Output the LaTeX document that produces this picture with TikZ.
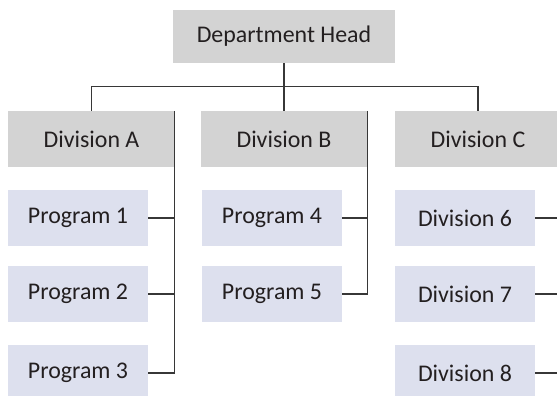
\documentclass[tikz,border=0pt]{standalone}
\usepackage{fontspec}
\setmainfont{Carlito}
\definecolor{headgray}{RGB}{211,211,211}
\definecolor{progblue}{RGB}{221,224,238}
\definecolor{linkgray}{RGB}{55,55,55}
\definecolor{textgray}{RGB}{35,31,32}

\tikzset{
  orgbox/.style={inner sep=0pt, text=textgray, font=\fontsize{20.4}{24}\selectfont, minimum height=1.68cm},
  headbox/.style={orgbox, fill=headgray, minimum width=6.66cm, minimum height=1.59cm},
  divbox/.style={orgbox, fill=headgray, minimum width=4.98cm},
  progbox/.style={orgbox, fill=progblue, minimum width=4.2cm},
  link/.style={draw=linkgray, line width=1pt}
}

\begin{document}
\begin{tikzpicture}
  \useasboundingbox (0,0) rectangle (16.71,11.85);
  \clip (0,0) rectangle (16.71,11.85);

  % Head
  \node[headbox] (head) at (8.52, 10.755) {Department Head};

  % Divisions
  \node[divbox] (divA) at (2.745, 7.68) {Division A};
  \node[divbox] (divB) at (8.52, 7.68) {Division B};
  \node[divbox] (divC) at (14.34, 7.68) {Division C};

  % Programs under A and B, divisions under C
  \node[progbox] (p1) at (2.34, 5.31) {Program 1};
  \node[progbox] (p2) at (2.34, 3.03) {Program 2};
  \node[progbox] (p3) at (2.34, 0.66) {Program 3};
  \node[progbox] (p4) at (8.16, 5.31) {Program 4};
  \node[progbox] (p5) at (8.16, 3.03) {Program 5};
  \node[progbox] (d6) at (13.95, 5.31) {Division 6};
  \node[progbox] (d7) at (13.95, 3.03) {Division 7};
  \node[progbox] (d8) at (13.95, 0.66) {Division 8};

  \coordinate (bus) at (0, 9.255);
  \coordinate (edge) at (16.71, 0);

  % Links
  \draw[link] (head.south) -- (head.south |- divB.north);
  \draw[link] (divA.north) |- (divC.north |- bus) -- (divC.north);

  \draw[link] (divA.north east) |- (p3.east);
  \draw[link] (p1.east) -- (p1.east -| divA.east);
  \draw[link] (p2.east) -- (p2.east -| divA.east);

  \draw[link] (divB.north east) |- (p5.east);
  \draw[link] (p4.east) -- (p4.east -| divB.east);

  \draw[link] (d6.east) -- (d6.east -| edge);
  \draw[link] (d7.east) -- (d7.east -| edge);
  \draw[link] (d8.east) -- (d8.east -| edge);
\end{tikzpicture}
\end{document}
